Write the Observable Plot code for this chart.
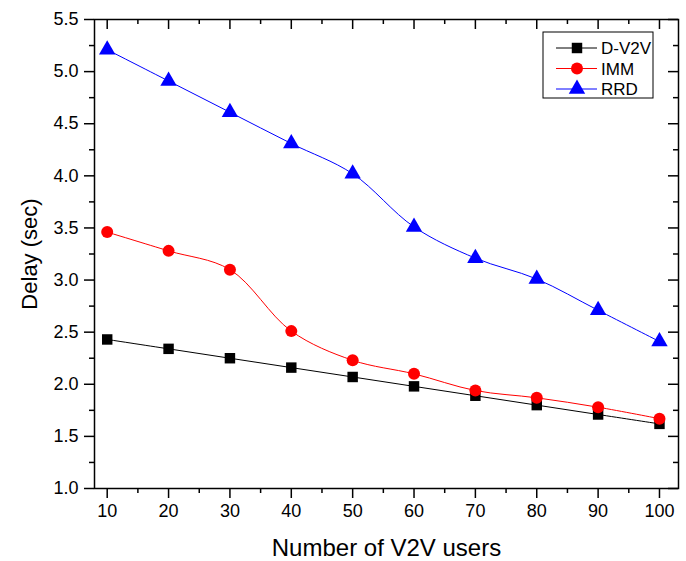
<!DOCTYPE html>
<html>
<head>
<meta charset="utf-8">
<script src="https://cdn.jsdelivr.net/npm/d3@7"></script>
<script src="https://cdn.jsdelivr.net/npm/@observablehq/plot@0.6"></script>
<style>
  html, body { margin: 0; padding: 0; background: #fff; }
  #chart { position: relative; width: 686px; height: 561px; }
</style>
</head>
<body>
<div id="chart"></div>
<script>
const users = [10, 20, 30, 40, 50, 60, 70, 80, 90, 100];
const dv2v = [2.43, 2.34, 2.25, 2.16, 2.07, 1.98, 1.89, 1.80, 1.71, 1.62];
const imm  = [3.46, 3.28, 3.10, 2.51, 2.23, 2.10, 1.94, 1.87, 1.78, 1.67];
const rrd  = [5.21, 4.91, 4.61, 4.31, 4.02, 3.51, 3.21, 3.01, 2.71, 2.41];
const seriesNames = ["D-V2V", "IMM", "RRD"];
const seriesColors = ["#000000", "#ff0000", "#0000ff"];
const seriesSymbols = ["square", "circle", "triangle"];
const xTicks = [10, 20, 30, 40, 50, 60, 70, 80, 90, 100];
const xMinor = [15, 25, 35, 45, 55, 65, 75, 85, 95];
const yTicks = [1.0, 1.5, 2.0, 2.5, 3.0, 3.5, 4.0, 4.5, 5.0, 5.5];
const yMinor = [1.25, 1.75, 2.25, 2.75, 3.25, 3.75, 4.25, 4.75, 5.25];
const xTitle = "Number of V2V users";
const yTitle = "Delay (sec)";

const values = [dv2v, imm, rrd];
const data = [];
seriesNames.forEach((s, i) => users.forEach((u, j) => data.push({series: s, x: u, y: values[i][j]})));

const W = 686, H = 561;
const mL = 94, mR = 8, mT = 19, mB = 73;
const innerW = W - mL - mR, innerH = H - mT - mB;

const marks = [];
seriesNames.forEach((s, i) => {
  const d = data.filter(r => r.series === s);
  marks.push(Plot.line(d, {x: "x", y: "y", stroke: seriesColors[i], strokeWidth: 1, curve: "catmull-rom"}));
});
const sizes = [5.9, 6.0, 6.1];
seriesNames.forEach((s, i) => {
  const d = data.filter(r => r.series === s);
  marks.push(Plot.dot(d, {x: "x", y: "y", symbol: () => seriesSymbols[i], fill: seriesColors[i], stroke: "none", r: sizes[i]}));
});

const plot = Plot.plot({
  width: W, height: H,
  marginLeft: mL, marginRight: mR, marginTop: mT, marginBottom: mB,
  style: {fontFamily: "'Liberation Sans', Arial, sans-serif", fontSize: "18px", color: "#000", background: "#fff"},
  x: {domain: [7.93, 103.1]},
  y: {domain: [1, 5.5]},
  symbol: {domain: seriesSymbols, range: seriesSymbols},
  marks: [
    ...marks,
    Plot.axisX({ticks: xTicks, tickSize: 10, tickPadding: 6, tickFormat: d => String(d), fontSize: 18, strokeWidth: 1.5,
      label: xTitle, labelAnchor: "center", labelOffset: 67, labelArrow: "none"}),
    Plot.axisX({ticks: xMinor, tickSize: 5, text: null, strokeWidth: 1.5, label: null}),
    Plot.axisY({ticks: yTicks, tickSize: 10, tickPadding: 6, tickFormat: d3.format(".1f"), fontSize: 18, strokeWidth: 1.5,
      label: yTitle, labelAnchor: "center", labelOffset: 73, labelArrow: "none"}),
    Plot.axisY({ticks: yMinor, tickSize: 5, text: null, strokeWidth: 1.5, label: null}),
    Plot.tickX(xTicks, {x: d => d, insetBottom: innerH - 10, strokeWidth: 1.5}),
    Plot.tickX(xMinor, {x: d => d, insetBottom: innerH - 5, strokeWidth: 1.5}),
    Plot.tickY(yTicks, {y: d => d, insetLeft: innerW - 10, strokeWidth: 1.5}),
    Plot.tickY(yMinor, {y: d => d, insetLeft: innerW - 5, strokeWidth: 1.5}),
    Plot.frame({stroke: "#000", strokeWidth: 1.5})
  ]
});

// axis title sizes
const svg = d3.select(plot);
svg.selectAll("g[aria-label='x-axis label'] text").attr("font-size", 24);
svg.selectAll("g[aria-label='y-axis label'] text").attr("font-size", 22);

// legend inside the frame, upper right
const lg = svg.append("g").attr("transform", `translate(${W - mR - 135},${mT + 13})`);
lg.append("rect").attr("x", 0).attr("y", 0).attr("width", 110).attr("height", 66)
  .attr("fill", "#fff").attr("stroke", "#000").attr("stroke-width", 1);
const sym = {square: d3.symbolSquare, circle: d3.symbolCircle, triangle: d3.symbolTriangle};
seriesNames.forEach((s, i) => {
  const yy = 16 + i * 20.5;
  lg.append("line").attr("x1", 13).attr("x2", 54).attr("y1", yy).attr("y2", yy)
    .attr("stroke", seriesColors[i]).attr("stroke-width", 1);
  lg.append("path").attr("transform", `translate(34,${yy})`)
    .attr("d", d3.symbol(sym[seriesSymbols[i]], Math.PI * sizes[i] * sizes[i])())
    .attr("fill", seriesColors[i]);
  lg.append("text").attr("x", 58).attr("y", yy).attr("dy", "0.36em")
    .attr("text-anchor", "start")
    .attr("font-size", 17).attr("fill", "#000").text(s);
});

document.getElementById("chart").appendChild(plot);
</script>
</body>
</html>
